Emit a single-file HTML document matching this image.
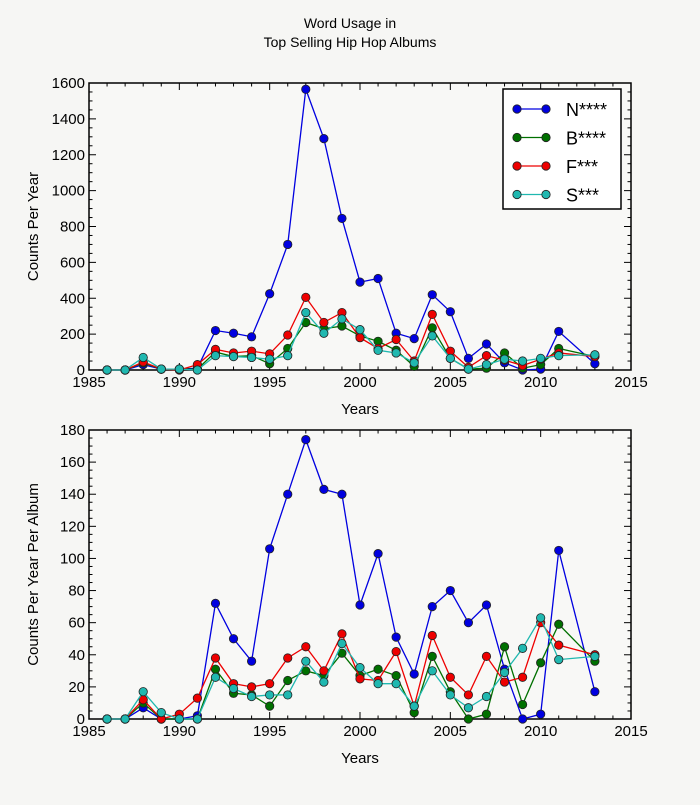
<!DOCTYPE html>
<html><head><meta charset="utf-8"><style>
body{margin:0;background:#f6f6f4;}
svg{font-family:"Liberation Sans",sans-serif;}
</style></head><body>
<svg id="c" width="700" height="800"></svg>
<script>
const years=[1986,1987,1988,1989,1990,1991,1992,1993,1994,1995,1996,1997,1998,1999,2000,2001,2002,2003,2004,2005,2006,2007,2008,2009,2010,2011,2013];
const topN=[0,0,30,5,5,10,220,205,185,425,700,1565,1290,845,490,510,205,175,420,325,65,145,40,0,5,215,35];
const topB=[0,0,40,5,5,5,100,75,80,35,120,265,230,245,190,160,110,20,235,65,5,10,95,10,30,120,75];
const topF=[0,0,45,5,0,30,115,95,105,90,195,405,265,320,180,120,170,50,310,105,15,80,55,25,60,95,75];
const topS=[0,0,70,5,5,0,80,75,70,60,80,320,205,285,225,110,95,40,190,65,5,30,60,50,65,80,85];
const botN=[0,0,7,0,0,2,72,50,36,106,140,174,143,140,71,103,51,28,70,80,60,71,31,0,3,105,17];
const botB=[0,0,10,0,0,0,31,16,15,8,24,30,27,41,27,31,27,4,39,17,0,3,45,9,35,59,36];
const botF=[0,0,12,0,3,13,38,22,20,22,38,45,30,53,25,24,42,8,52,26,15,39,23,26,60,46,40];
const botS=[0,0,17,4,0,0,26,19,14,15,15,36,23,47,32,22,22,8,30,15,7,14,29,44,63,37,39];
const xTicks=[1985,1990,1995,2000,2005,2010,2015];
const topYTicks=[0,200,400,600,800,1000,1200,1400,1600];
const botYTicks=[0,20,40,60,80,100,120,140,160,180];
const names=["N****","B****","F***","S***"];
const colors=["#0000e0","#007000","#ee0000","#20b8b0"];
const NS="http://www.w3.org/2000/svg";
const svg=document.getElementById('c');
function mk(t,a,p){const e=document.createElementNS(NS,t);for(const k in a)e.setAttribute(k,a[k]);(p||svg).appendChild(e);return e;}
function txt(s,a,p){const e=mk('text',a,p);e.textContent=s;return e;}
const t1=txt('Word Usage in',{x:350,y:28,'text-anchor':'middle','font-size':14});


const t2=txt('Top Selling Hip Hop Albums',{x:350,y:47,'text-anchor':'middle','font-size':14});


function panel(name,top,bot,ymax,yt,ylabel,series,legend){
  const L=89,R=631,X0=1985,X1=2015;
  const sx=v=>L+(v-X0)/(X1-X0)*(R-L);
  const sy=v=>bot-(v/ymax)*(bot-top);
  const g=mk('g',{});
  
  
  mk('rect',{x:L,y:top,width:R-L,height:bot-top,fill:'#f8f8f6',stroke:'#000','stroke-width':1.5},g);
  for(let y=X0;y<=X1;y++){const l=(y%5==0)?7:3.5;mk('line',{x1:sx(y),x2:sx(y),y1:bot,y2:bot-l,stroke:'#000'},g);mk('line',{x1:sx(y),x2:sx(y),y1:top,y2:top+l,stroke:'#000'},g);}
  xTicks.forEach(v=>{const e=txt(v,{x:sx(v),y:bot+17,'text-anchor':'middle','font-size':15},g);
    
    });
  const step=yt[1]-yt[0];
  for(let v=0;v<=ymax+1e-9;v+=step/4){const l=(Math.abs(v/step-Math.round(v/step))<1e-6)?7:3.5;mk('line',{x1:L,x2:L+l,y1:sy(v),y2:sy(v),stroke:'#000'},g);mk('line',{x1:R,x2:R-l,y1:sy(v),y2:sy(v),stroke:'#000'},g);}
  yt.forEach(v=>{const e=txt(v,{x:L-4,y:sy(v)+5,'text-anchor':'end','font-size':15},g);
    
    });
  const xl=txt('Years',{x:(L+R)/2,y:bot+44,'text-anchor':'middle','font-size':15},g);
  
  
  const yl=txt(ylabel,{x:0,y:0,'text-anchor':'middle','font-size':15,transform:`translate(38,${(top+bot)/2}) rotate(-90)`},g);
  
  
  series.forEach((d,i)=>{
    const pts=d.map((v,j)=>sx(years[j])+','+sy(v)).join(' ');
    const pl=mk('polyline',{points:pts,fill:'none',stroke:colors[i],'stroke-width':1.3},g);
    
    
    d.forEach((v,j)=>{const c=mk('circle',{cx:sx(years[j]),cy:sy(v),r:4.2,fill:colors[i],stroke:'#222','stroke-width':0.8},g);
      
      });
  });
  if(legend){
    const lg=mk('g',{},g);
    
    
    mk('rect',{x:503,y:89,width:118,height:120,fill:'#fff',stroke:'#000','stroke-width':1.5},lg);
    names.forEach((n,i)=>{const y=109+i*28.5;
      mk('line',{x1:517,x2:546,y1:y,y2:y,stroke:colors[i],'stroke-width':1.3},lg);
      mk('circle',{cx:517,cy:y,r:4.2,fill:colors[i],stroke:'#222','stroke-width':0.8},lg);
      mk('circle',{cx:546,cy:y,r:4.2,fill:colors[i],stroke:'#222','stroke-width':0.8},lg);
      const e=txt(n,{x:566,y:y+7,'font-size':18},lg);
      
      });
  }
}
panel('top-panel',83,370,1600,topYTicks,'Counts Per Year',[topN,topB,topF,topS],true);
panel('bottom-panel',430,719,180,botYTicks,'Counts Per Year Per Album',[botN,botB,botF,botS],false);
</script>
</body></html>
